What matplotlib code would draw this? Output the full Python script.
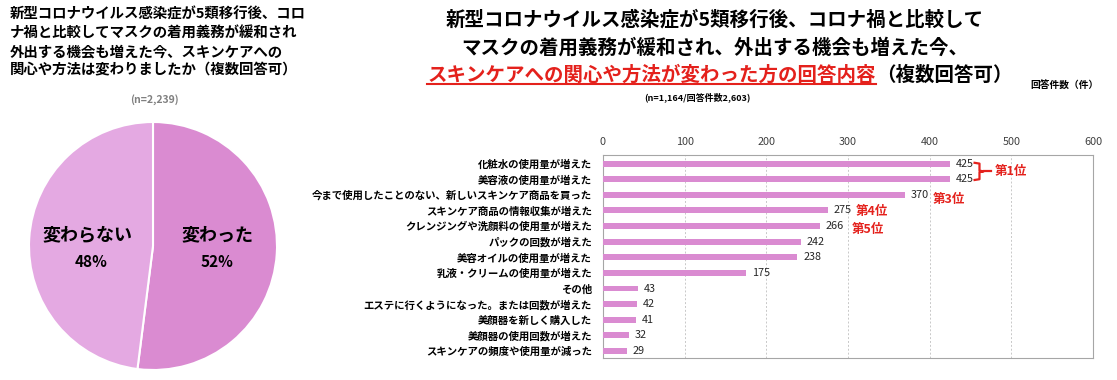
import matplotlib
matplotlib.use("Agg")
import matplotlib.pyplot as plt
from matplotlib.lines import Line2D

plt.rcParams['font.family'] = ['Noto Sans CJK JP', 'DejaVu Sans']

# pie data
pie_labels = ['変わった', '変わらない']
pie_values = [52, 48]
pie_colors = ['#DA8BD1', '#E4A9E2']

# bar data
categories = ['化粧水の使用量が増えた', '美容液の使用量が増えた',
              '今まで使用したことのない、新しいスキンケア商品を買った',
              'スキンケア商品の情報収集が増えた', 'クレンジングや洗顔料の使用量が増えた',
              'パックの回数が増えた', '美容オイルの使用量が増えた',
              '乳液・クリームの使用量が増えた', 'その他',
              'エステに行くようになった。または回数が増えた', '美顔器を新しく購入した',
              '美顔器の使用回数が増えた', 'スキンケアの頻度や使用量が減った']
counts = [425, 425, 370, 275, 266, 242, 238, 175, 43, 42, 41, 32, 29]
xticks = [0, 100, 200, 300, 400, 500, 600]

RED = '#E4211C'
W, H = 1117, 380
fig = plt.figure(figsize=(W / 100, H / 100), dpi=100)


def px(x, y):
    return x / W, 1 - y / H


# ---- left: pie ----
cx, cy, r = 153, 246, 124
pax = fig.add_axes([(cx - r) / W, (H - cy - r) / H, 2 * r / W, 2 * r / H])
pax.pie(pie_values, colors=pie_colors, startangle=90, counterclock=False,
        wedgeprops=dict(edgecolor='white', linewidth=1.5))
pax.set_xlim(-1, 1)
pax.set_ylim(-1, 1)
pax.set_aspect('equal')
pax.text(0.52, 0.09, pie_labels[0], ha='center', va='center', fontsize=13, fontweight='bold')
pax.text(0.52, -0.13, f'{pie_values[0]}%', ha='center', va='center', fontsize=11, fontweight='bold')
pax.text(-0.53, 0.09, pie_labels[1], ha='center', va='center', fontsize=13, fontweight='bold')
pax.text(-0.50, -0.13, f'{pie_values[1]}%', ha='center', va='center', fontsize=11, fontweight='bold')

left_title = ['新型コロナウイルス感染症が5類移行後、コロ',
              'ナ禍と比較してマスクの着用義務が緩和され',
              '外出する機会も増えた今、スキンケアへの',
              '関心や方法は変わりましたか（複数回答可）']
for i, line in enumerate(left_title):
    fig.text(*px(10, 15 + i * 18.5), line, ha='left', va='center', fontsize=10.4, fontweight='bold')
fig.text(*px(154, 100), '(n=2,239)', ha='center', va='center', fontsize=7.5,
         fontweight='bold', color='#808080')

# ---- right: bars ----
x0, x1, y0, y1 = 603, 1093, 155, 358
ax = fig.add_axes([x0 / W, (H - y1) / H, (x1 - x0) / W, (y1 - y0) / H])
ypos = list(range(len(categories)))
ax.barh(ypos, counts, height=0.38, color='#DA8BD1', zorder=3)
ax.set_ylim(len(categories) - 0.55, -0.55)
ax.set_xlim(0, 600)
ax.set_xticks(xticks)
ax.xaxis.tick_top()
ax.tick_params(axis='x', length=0, labelsize=7.8, labelcolor='#404040', pad=6)
ax.set_yticks(ypos)
ax.set_yticklabels(categories, fontsize=7.5, fontweight='bold')
ax.tick_params(axis='y', length=0, pad=8)
ax.grid(axis='x', linestyle=(0, (2, 2)), color='#C8C8C8', linewidth=0.7, zorder=0)
for s in ax.spines.values():
    s.set_color('#A6A6A6')
    s.set_linewidth(0.8)
for yv, v in zip(ypos, counts):
    ax.text(v + 7, yv, str(v), ha='left', va='center', fontsize=7.8, color='#262626')

# rank annotations
bx = [455, 461, 461, 466, 461, 461, 455]
by = [-0.05, 0.0, 0.45, 0.5, 0.55, 1.0, 1.05]
ax.plot(bx, by, color=RED, linewidth=1.6, clip_on=False, zorder=4)
ax.plot([466, 475], [0.5, 0.5], color=RED, linewidth=1.6, clip_on=False, zorder=4)
ax.text(480, 0.5, '第1位', color=RED, fontsize=9, fontweight='bold', ha='left', va='center')
ax.text(404, 2.3, '第3位', color=RED, fontsize=9, fontweight='bold', ha='left', va='center')
ax.text(310, 3.1, '第4位', color=RED, fontsize=9, fontweight='bold', ha='left', va='center')
ax.text(305, 4.2, '第5位', color=RED, fontsize=9, fontweight='bold', ha='left', va='center')

# right title
fig.text(*px(715, 20), '新型コロナウイルス感染症が5類移行後、コロナ禍と比較して',
         ha='center', va='center', fontsize=14, fontweight='bold')
fig.text(*px(715, 48), 'マスクの着用義務が緩和され、外出する機会も増えた今、',
         ha='center', va='center', fontsize=14, fontweight='bold')
t_red = fig.text(*px(876, 75), 'スキンケアへの関心や方法が変わった方の回答内容',
                 ha='right', va='center', fontsize=14, fontweight='bold', color=RED)
fig.text(*px(876, 75), '（複数回答可）', ha='left', va='center', fontsize=14, fontweight='bold')
fig.text(*px(697, 97), '(n=1,164/回答件数2,603)', ha='center', va='center', fontsize=6.5, fontweight='bold')
fig.text(*px(1064, 85), '回答件数（件）', ha='center', va='center', fontsize=7, fontweight='bold')

fig.canvas.draw()
bb = t_red.get_window_extent().transformed(fig.transFigure.inverted())
fig.add_artist(Line2D([bb.x0, bb.x1], [bb.y0 + 0.002, bb.y0 + 0.002],
                      color=RED, linewidth=1.5, transform=fig.transFigure))

fig.savefig('out.png', dpi=100)
